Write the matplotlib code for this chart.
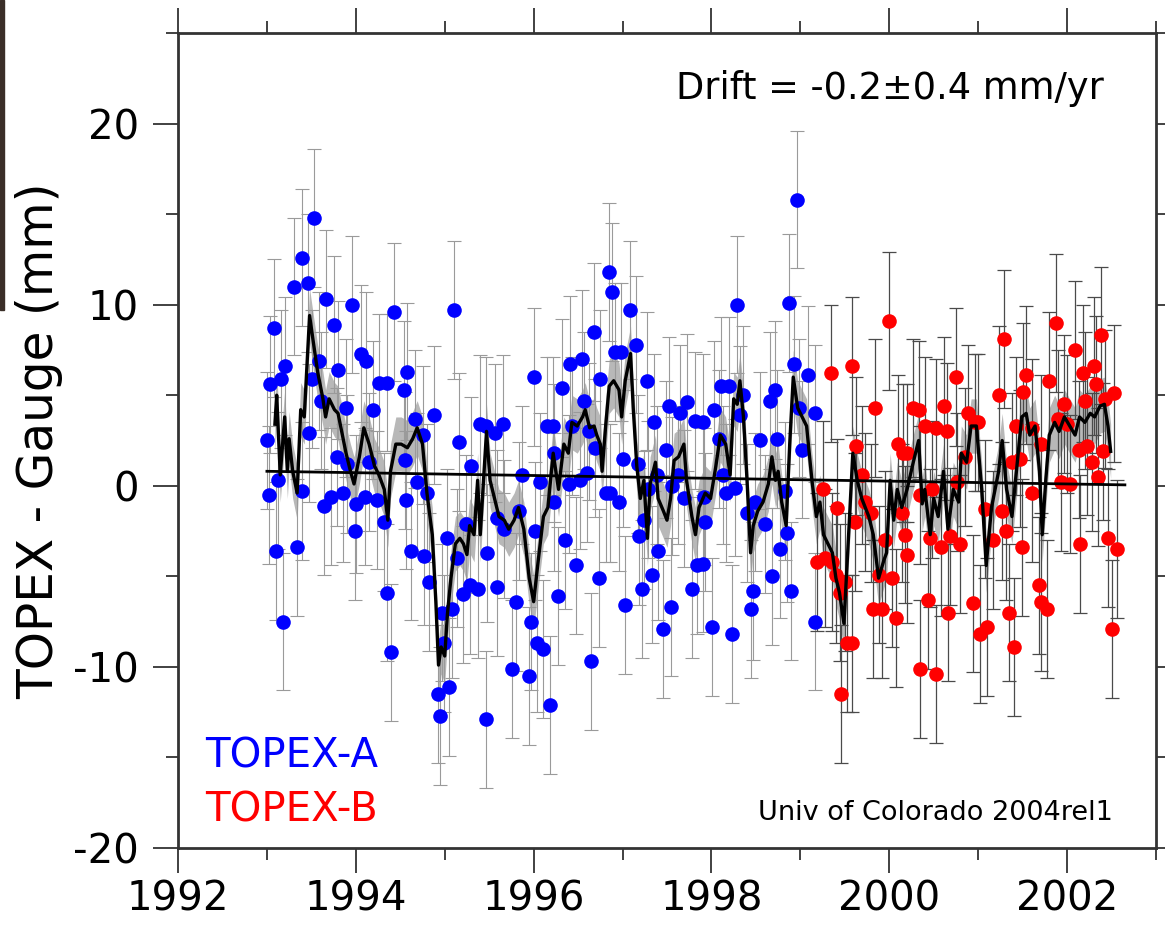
import numpy as np
import matplotlib
matplotlib.use("Agg")
import matplotlib.pyplot as plt
from matplotlib.patches import Rectangle
from matplotlib.ticker import MultipleLocator

plt.rcParams["axes.unicode_minus"] = False

# ---- TOPEX-A (blue) ---- #
a_year = [1993.00, 1993.02, 1993.04, 1993.08, 1993.10, 1993.13, 1993.16, 1993.18, 1993.20, 1993.31,
          1993.34, 1993.40, 1993.40, 1993.46, 1993.47, 1993.51, 1993.53, 1993.59, 1993.61, 1993.64,
          1993.67, 1993.72, 1993.75, 1993.79, 1993.80, 1993.86, 1993.89, 1993.90, 1993.96, 1993.99,
          1994.00, 1994.06, 1994.10, 1994.12, 1994.15, 1994.19, 1994.24, 1994.26, 1994.32, 1994.35,
          1994.35, 1994.40, 1994.43,
          1994.54, 1994.55, 1994.56, 1994.58, 1994.62, 1994.67, 1994.69, 1994.75, 1994.77, 1994.80,
          1994.82, 1994.88, 1994.92, 1994.95, 1994.97, 1994.99, 1995.03, 1995.05, 1995.08, 1995.10,
          1995.14, 1995.16, 1995.21, 1995.24, 1995.28, 1995.30, 1995.37, 1995.40, 1995.46, 1995.46,
          1995.48, 1995.57, 1995.59, 1995.59, 1995.66, 1995.67, 1995.76, 1995.80, 1995.84, 1995.87,
          1995.95, 1995.97, 1996.00, 1996.02, 1996.04, 1996.07, 1996.11, 1996.15, 1996.18,
          1996.22, 1996.23, 1996.23, 1996.27, 1996.32, 1996.35, 1996.40, 1996.41, 1996.43, 1996.48,
          1996.52, 1996.54, 1996.57, 1996.60, 1996.62, 1996.65, 1996.68, 1996.69, 1996.73, 1996.75,
          1996.81, 1996.85, 1996.86, 1996.88, 1996.92, 1996.96, 1996.98, 1997.00, 1997.03, 1997.08,
          1997.15, 1997.17, 1997.19, 1997.22, 1997.24, 1997.28, 1997.29, 1997.33, 1997.35, 1997.39,
          1997.40, 1997.46, 1997.49, 1997.52, 1997.54, 1997.56, 1997.62, 1997.65, 1997.69, 1997.73,
          1997.78, 1997.82, 1997.84,
          1997.90, 1997.90, 1997.92, 1997.93, 1998.01, 1998.03, 1998.08, 1998.11, 1998.13, 1998.16,
          1998.20, 1998.23, 1998.27, 1998.29, 1998.32, 1998.36, 1998.40, 1998.44, 1998.47, 1998.49,
          1998.55, 1998.60, 1998.66, 1998.68, 1998.72, 1998.74, 1998.77, 1998.83, 1998.85, 1998.87,
          1998.90, 1998.93, 1998.96, 1998.99, 1999.02, 1999.09, 1999.16, 1999.17]
a_val = [2.5, -0.5, 5.6, 8.7, -3.6, 0.3, 5.9, -7.5, 6.6, 11.0,
         -3.4, 12.6, -0.3, 11.2, 2.9, 5.9, 14.8, 6.9, 4.7, -1.1,
         10.3, -0.6, 8.9, 1.6, 6.4, -0.4, 4.3, 1.2, 10.0, -2.5,
         -1.0, 7.3, -0.6, 6.9, 1.3, 4.2, -0.8, 5.7, -2.0, 5.7,
         -5.9, -9.2, 9.6,
         5.3, 1.4, -0.8, 6.3, -3.6, 3.7, 0.2, 2.8, -3.9, -0.4,
         -5.3, 3.9, -11.5, -12.7, -7.0, -8.7, -2.9, -11.1, -6.8, 9.7,
         -4.0, 2.4, -6.0, -2.1, -5.5, 1.1, -5.7, 3.4, 3.3, -12.9,
         -3.7, 2.9, -1.8, -5.6, 3.4, -2.4, -10.1, -6.4, -1.4, 0.6,
         -10.5, -7.5, 6.0, -2.5, -8.7, 0.2, -9.0, 3.3, -12.1,
         3.3, -0.9, 1.8, -6.1, 5.4, -3.0, 0.1, 6.7, 3.3, -4.4,
         0.3, 7.0, 4.7, 0.7, 3.0, -9.7, 8.5, 2.1, -5.1, 5.9,
         -0.4, 11.8, -0.4, 10.7, 7.4, -0.9, 7.4, 1.5, -6.6, 9.7,
         7.8, 1.2, -2.8, -5.7, -1.9, 5.8, -0.2, -4.9, 3.5, 0.6,
         -3.6, -7.9, 2.0, 4.4, -6.7, 0.0, 0.6, 4.0, -0.7, 4.6,
         -5.7, 3.6, -4.4,
         3.5, -4.3, -0.6, -2.0, -7.8, 4.2, 2.6, 5.5, 0.6, -0.4,
         5.5, -8.2, -0.1, 10.0, 3.9, 5.0, -1.5, -6.8, -5.8, -0.9,
         2.5, -2.1, 4.7, -5.0, 5.3, 2.6, -3.5, -0.3, -2.6, 10.1,
         -5.8, 6.7, 15.8, 4.3, 2.0, 6.1, -7.5, 4.0]

# ---- TOPEX-B (red) ---- #
b_year = [1999.19, 1999.26, 1999.28, 1999.35, 1999.36, 1999.40, 1999.41, 1999.45, 1999.46, 1999.50,
          1999.53,
          1999.58, 1999.58, 1999.62, 1999.63, 1999.69, 1999.73, 1999.79, 1999.82, 1999.84, 1999.89,
          1999.92, 1999.95, 2000.00, 2000.03, 2000.08, 2000.10, 2000.14, 2000.15, 2000.18, 2000.20,
          2000.20, 2000.27, 2000.33, 2000.34, 2000.35, 2000.40, 2000.43, 2000.46, 2000.48, 2000.52,
          2000.53, 2000.58, 2000.62, 2000.65, 2000.66, 2000.68, 2000.75, 2000.76, 2000.80, 2000.85,
          2000.88, 2000.94, 2000.96, 2001.00, 2001.02, 2001.08, 2001.10,
          2001.17, 2001.23, 2001.27, 2001.29, 2001.31, 2001.35, 2001.38, 2001.40, 2001.43, 2001.47,
          2001.49, 2001.50, 2001.54, 2001.60, 2001.61, 2001.68, 2001.71, 2001.71, 2001.77, 2001.80,
          2001.88, 2001.90, 2001.93, 2001.96, 2002.00, 2002.03, 2002.09, 2002.13, 2002.14, 2002.18,
          2002.20, 2002.22, 2002.28, 2002.30, 2002.33, 2002.35, 2002.38, 2002.40, 2002.43, 2002.46,
          2002.50, 2002.53, 2002.56]
b_val = [-4.2, -0.2, -4.0, 6.2, -4.2, -4.9, -1.2, -5.9, -11.5, -5.3,
         -8.7,
         6.6, -8.7, -2.0, 2.2, 0.6, -0.9, -1.5, -6.8, 4.3, -4.9,
         -6.8, -3.0, 9.1, -5.1, -7.3, 2.3, -1.5, 1.8, -2.7, 1.8,
         -3.8, 4.3, 4.2, -10.1, -0.5, 3.3, -6.3, -2.9, -0.2, -10.4,
         3.2, -3.4, 4.4, 3.0, -7.0, -2.8, 6.0, 0.2, -3.2, 1.6,
         4.0, -6.5, 3.5, 3.5, -8.2, -1.3, -7.8,
         -3.0, 5.0, -1.4, 8.1, -2.5, -7.0, 1.3, -8.9, 3.3, 1.5,
         -3.4, 5.2, 6.1, 3.2, -0.4, -5.5, -6.4, 2.3, -6.8, 5.8,
         9.0, 3.7, 0.2, 4.5, 3.4, 0.1, 7.5, 2.0, -3.2, 6.2,
         4.7, 2.2, 1.3, 6.6, 5.6, 0.5, 8.3, 1.9, 4.8, -2.9,
         -7.9, 5.1, -3.5]

err_a = 3.8
err_b = 3.8

# ---- running mean (black line) ---- #
m_year = [1993.09, 1993.11, 1993.15, 1993.20, 1993.23, 1993.25, 1993.29, 1993.34, 1993.38, 1993.42,
          1993.48, 1993.52, 1993.57, 1993.63, 1993.66, 1993.70, 1993.76, 1993.80, 1993.89, 1993.94,
          1993.98, 1994.04, 1994.09, 1994.15, 1994.21, 1994.26, 1994.32, 1994.36, 1994.39, 1994.45,
          1994.51, 1994.58, 1994.64, 1994.69, 1994.75, 1994.80, 1994.86, 1994.90, 1994.93, 1994.96,
          1995.00, 1995.03, 1995.07, 1995.12, 1995.17, 1995.21, 1995.25, 1995.28, 1995.33, 1995.37,
          1995.40, 1995.43, 1995.47, 1995.51, 1995.56, 1995.61, 1995.67, 1995.72, 1995.78, 1995.83,
          1995.89, 1995.95, 1996.00, 1996.05, 1996.11, 1996.16, 1996.22, 1996.28, 1996.34, 1996.39,
          1996.43, 1996.49, 1996.55, 1996.58, 1996.63, 1996.68, 1996.71, 1996.75, 1996.77, 1996.81,
          1996.85, 1996.90, 1996.96, 1996.99, 1997.03, 1997.09, 1997.12, 1997.16, 1997.20, 1997.24,
          1997.28, 1997.31, 1997.37, 1997.40, 1997.46, 1997.50, 1997.54, 1997.58, 1997.63, 1997.69,
          1997.72, 1997.78, 1997.82, 1997.86, 1997.93, 1997.99, 1998.05, 1998.10, 1998.16, 1998.21,
          1998.25, 1998.29, 1998.32, 1998.36, 1998.40, 1998.44, 1998.47, 1998.52, 1998.58, 1998.64,
          1998.68, 1998.72, 1998.75, 1998.79, 1998.84, 1998.88, 1998.92, 1998.97, 1999.02, 1999.07,
          1999.13, 1999.18, 1999.22, 1999.26, 1999.31, 1999.36, 1999.40, 1999.44, 1999.49, 1999.53,
          1999.59, 1999.64, 1999.69, 1999.77, 1999.82, 1999.88, 1999.94, 1999.97, 2000.01, 2000.05,
          2000.09, 2000.14, 2000.20, 2000.27, 2000.33, 2000.37, 2000.40, 2000.46, 2000.50, 2000.55,
          2000.61, 2000.66, 2000.72, 2000.78, 2000.81, 2000.87, 2000.92, 2000.98, 2001.04, 2001.09,
          2001.15, 2001.23, 2001.27, 2001.32, 2001.38, 2001.43, 2001.49, 2001.54, 2001.58, 2001.64,
          2001.69, 2001.72, 2001.76, 2001.80, 2001.86, 2001.91, 2001.97, 2002.03, 2002.09, 2002.14,
          2002.20, 2002.26, 2002.31, 2002.37, 2002.42, 2002.46, 2002.49]
m_val = [3.4, 5.0, 0.6, 3.8, 0.8, 2.6, 0.8, -0.4, 4.2, 3.8,
         9.4, 8.0, 6.3, 4.8, 3.8, 4.8, 4.2, 4.0, 1.8, 0.8,
         0.1, 1.6, 3.2, 2.3, 1.1, 0.6, -0.2, -1.9, 0.8, 2.3,
         2.3, 2.1, 2.6, 3.2, 2.3, -0.4, -2.7, -6.4, -9.9, -8.9,
         -9.4, -7.1, -5.1, -3.2, -2.9, -3.2, -3.8, -2.2, -2.7, 0.3,
         -2.7, -0.2, 3.0, 0.3, -0.7, -1.7, -1.9, -2.4, -1.9, -1.2,
         -2.4, -5.1, -6.4, -4.2, -1.7, -1.2, 1.8, -0.2, 2.3, 1.8,
         3.5, 3.3, 3.8, 4.2, 3.2, 3.3, 2.8, 2.3, 0.8, 3.3,
         5.5, 5.8, 5.3, 3.8, 5.8, 7.3, 4.3, 1.1, -0.7, 0.3,
         -2.9, 0.1, 1.3, -0.7, -1.4, -1.9, -0.7, 1.4, 1.6, 2.3,
         0.3, -1.7, -2.7, -1.2, -0.4, -0.7, 1.1, 2.8, 2.3, 0.6,
         4.8, 4.5, 5.8, 3.8, 0.3, -3.7, -2.2, -1.4, -0.9, 0.1,
         1.6, 0.3, 0.8, -0.9, -2.2, 2.3, 6.0, 4.3, 3.8, 3.3,
         0.3, -1.7, -0.9, -2.7, -3.2, -3.7, -5.1, -5.9, -7.6, -3.9,
         1.8, 0.3, -0.7, -1.7, -2.7, -5.1, -4.1, -3.7, 0.3, -1.9,
         -0.2, -1.2, -0.2, 1.3, 2.5, -1.0, -0.2, -2.7, -0.7, -1.7,
         0.8, -2.4, -0.2, -0.9, 1.8, 1.3, 3.3, 3.3, -0.2, -4.4,
         -1.2, 0.8, 2.5, -0.2, -1.7, 0.8, 3.8, 4.0, 2.8, 3.3,
         0.8, -2.7, 0.3, 2.8, 3.5, 3.0, 3.8, 3.3, 2.8, 3.8,
         3.5, 4.0, 3.8, 4.4, 4.5, 3.3, 1.9]
m_band = 1.5

# ---- drift fit ---- #
fit_year = [1993.0, 2002.65]
fit_val = [0.8, 0.05]

W, H = 1165, 926


def plot_drift():
    fig = plt.figure(figsize=(W / 100, H / 100), dpi=100)
    ax = fig.add_axes([178 / W, 1 - 848 / H, 978 / W, 815 / H])

    m_lo = np.array(m_val) - m_band
    m_hi = np.array(m_val) + m_band
    ax.fill_between(m_year, m_lo, m_hi, color="#b8b8b8", lw=0, zorder=1)

    ax.errorbar(a_year, a_val, yerr=err_a, fmt="none", ecolor="#9a9a9a",
                elinewidth=0.8, capsize=5, capthick=0.8, zorder=2)
    ax.errorbar(b_year, b_val, yerr=err_b, fmt="none", ecolor="#4a4a4a",
                elinewidth=0.9, capsize=5, capthick=0.9, zorder=2)

    ax.plot(a_year, a_val, "o", color="#0000ff", ms=10.5, mew=0, zorder=3)
    ax.plot(b_year, b_val, "o", color="#ff0000", ms=10.5, mew=0, zorder=3)

    ax.plot(fit_year, fit_val, color="black", lw=2.0, zorder=4)
    ax.plot(m_year, m_val, color="black", lw=2.4, zorder=5)

    ax.set_xlim(1992, 2003)
    ax.set_ylim(-20, 25)
    ax.xaxis.set_major_locator(MultipleLocator(2))
    ax.xaxis.set_minor_locator(MultipleLocator(1))
    ax.yaxis.set_major_locator(MultipleLocator(10))
    ax.yaxis.set_minor_locator(MultipleLocator(5))
    ax.set_yticks([-20, -10, 0, 10, 20])
    ax.tick_params(which="both", direction="out", top=True, right=True,
                   width=1.3, color="#333333", labelsize=29, labelcolor="black")
    ax.tick_params(which="major", length=18, pad=5)
    ax.tick_params(which="minor", length=8.5)
    ax.tick_params(axis="y", which="major", pad=10)
    for sp in ax.spines.values():
        sp.set_linewidth(2.0)
        sp.set_color("#333333")

    ax.set_ylabel("TOPEX - Gauge (mm)", fontsize=35)
    ax.yaxis.label.set_va("center")
    ax.yaxis.set_label_coords(-0.142, 0.5)

    ax.text(0.947, 0.9325, "Drift = -0.2\u00b10.4 mm/yr", transform=ax.transAxes,
            ha="right", va="center", fontsize=26.5)
    ax.text(0.0276, 0.1117, "TOPEX-A", color="#0000ff", transform=ax.transAxes,
            ha="left", va="center", fontsize=29)
    ax.text(0.0276, 0.0454, "TOPEX-B", color="#ff0000", transform=ax.transAxes,
            ha="left", va="center", fontsize=29)
    ax.text(0.956, 0.043, "Univ of Colorado 2004rel1", transform=ax.transAxes,
            ha="right", va="center", fontsize=19.5)

    # dark strip at left edge of the original screenshot
    fig.patches.append(Rectangle((0, 1 - 310 / H), 4 / W, 310 / H,
                                 transform=fig.transFigure, color="#3a2e28"))

    fig.savefig("out.png", dpi=100)
    print("saved out.png")


if __name__ == "__main__":
    plot_drift()
